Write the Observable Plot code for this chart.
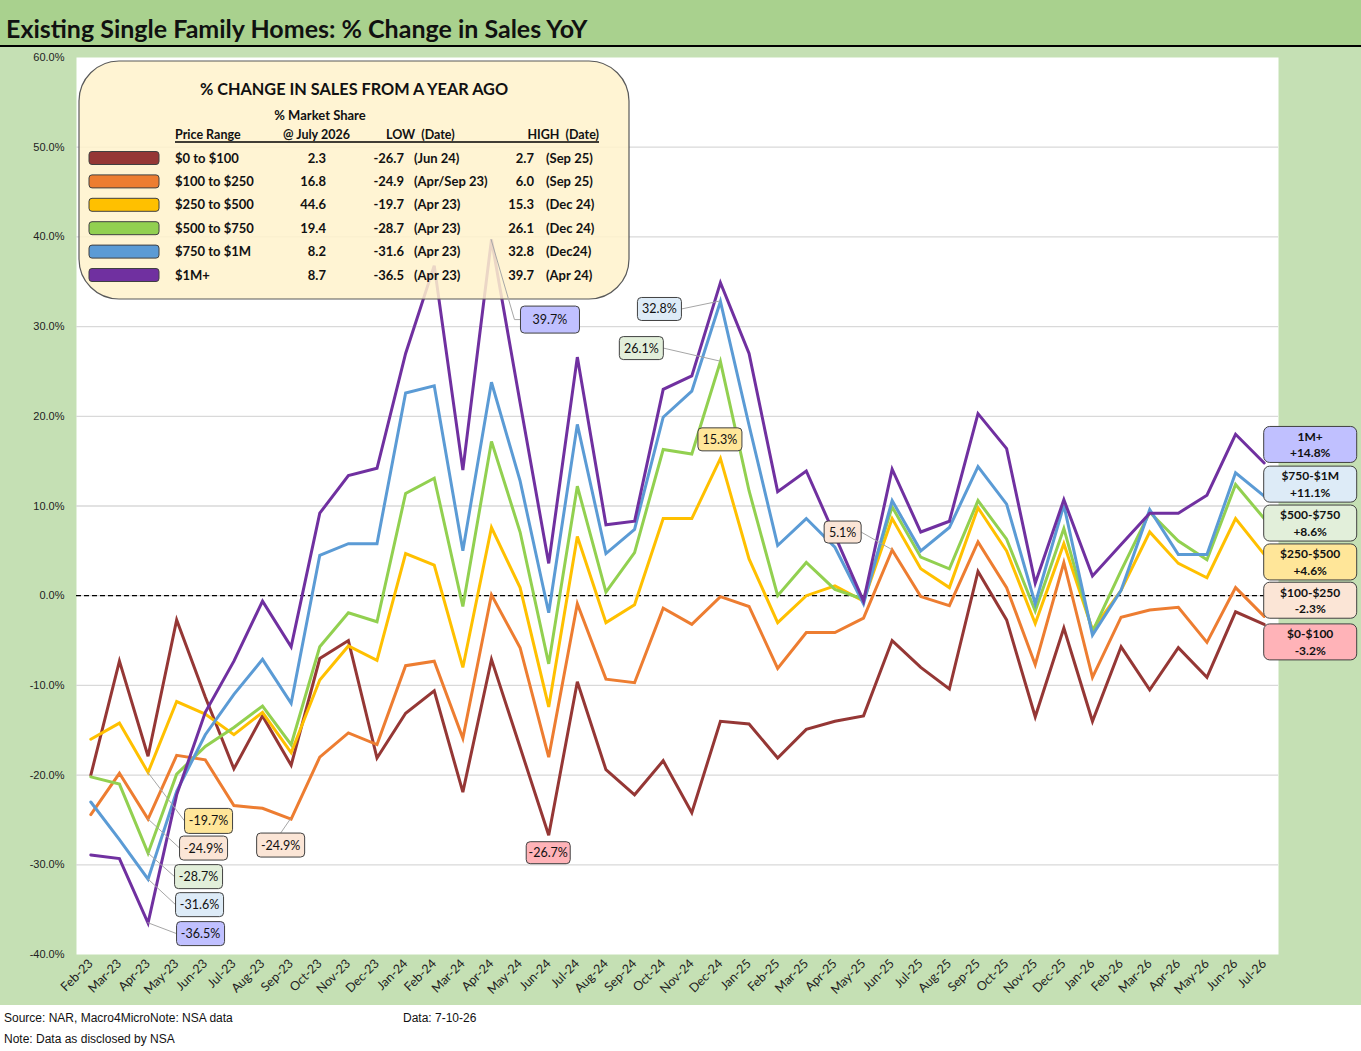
<!DOCTYPE html>
<html><head><meta charset="utf-8">
<script src="https://cdn.jsdelivr.net/npm/d3@7"></script>
<script src="https://cdn.jsdelivr.net/npm/@observablehq/plot@0.6"></script>
<style>
body{margin:0;width:1361px;height:1051px;overflow:hidden;background:#fff}
#title{height:45px;background:#a9d18e;border-bottom:2px solid #000;font:bold 25px Lato,sans-serif;line-height:56px;padding-left:6px;white-space:nowrap;color:#111;overflow:visible}
#chart svg{display:block}
#chart svg [aria-label^="x-axis"] text{font-family:Lato,sans-serif;font-size:12.5px;fill:#222}
#foot{position:relative;height:46px;font:12px "Liberation Sans",Arial,sans-serif;color:#111}
#foot span{position:absolute;white-space:nowrap}
</style></head><body>
<div id="title">Existing Single Family Homes: % Change in Sales YoY</div>
<div id="chart"></div>
<div id="foot"><span style="left:4px;top:6px">Source: NAR, Macro4MicroNote: NSA data</span><span style="left:403px;top:6px">Data: 7-10-26</span><span style="left:4px;top:27px">Note: Data as disclosed by NSA</span></div>
<script>
const months = ["Feb-23","Mar-23","Apr-23","May-23","Jun-23","Jul-23","Aug-23","Sep-23","Oct-23","Nov-23","Dec-23",
"Jan-24","Feb-24","Mar-24","Apr-24","May-24","Jun-24","Jul-24","Aug-24","Sep-24","Oct-24","Nov-24","Dec-24",
"Jan-25","Feb-25","Mar-25","Apr-25","May-25","Jun-25","Jul-25","Aug-25","Sep-25","Oct-25","Nov-25","Dec-25",
"Jan-26","Feb-26","Mar-26","Apr-26","May-26","Jun-26","Jul-26"];
const seriesNames = ["$0 to $100","$100 to $250","$250 to $500","$500 to $750","$750 to $1M","$1M+"];
const s0to100 = [-20.0,-7.3,-17.9,-2.7,-11.3,-19.3,-13.4,-18.9,-7.0,-5.0,-18.1,
 -13.1,-10.6,-21.9,-7.1,-16.9,-26.7,-9.6,-19.4,-22.2,-18.4,-24.2,-14.0,
 -14.3,-18.1,-14.9,-14.0,-13.4,-5.0,-8.0,-10.4,2.7,-2.7,-13.5,-3.6,
 -14.0,-5.7,-10.5,-5.8,-9.1,-1.8,-3.2];
const s100to250 = [-24.4,-19.8,-24.9,-17.8,-18.3,-23.4,-23.7,-24.9,-18.0,-15.3,-16.6,
 -7.8,-7.3,-15.9,0.1,-5.8,-18.0,-0.9,-9.3,-9.7,-1.4,-3.2,-0.1,
 -1.2,-8.1,-4.1,-4.1,-2.5,5.1,-0.1,-1.1,6.0,0.9,-7.7,3.7,
 -9.1,-2.4,-1.6,-1.3,-5.2,0.9,-2.3];
const s250to500 = [-16.0,-14.2,-19.7,-11.8,-13.2,-15.5,-13.0,-17.5,-9.4,-5.6,-7.2,
 4.7,3.4,-8.0,7.6,0.9,-12.4,6.6,-3.0,-1.0,8.6,8.6,15.3,
 4.1,-3.0,0.0,1.1,-0.6,8.6,3.0,0.9,9.8,5.0,-3.1,5.8,
 -3.8,0.6,7.1,3.6,2.0,8.6,4.6];
const s500to750 = [-20.2,-21.0,-28.7,-19.9,-16.8,-14.7,-12.3,-16.6,-5.7,-1.9,-2.9,
 11.4,13.1,-1.2,17.2,7.1,-7.6,12.2,0.4,4.8,16.3,15.8,26.1,
 11.7,0.0,3.7,0.7,-0.4,9.9,4.3,3.0,10.6,6.3,-1.7,7.5,
 -4.0,2.8,9.3,6.1,4.0,12.4,8.6];
const s750to1M = [-23.0,-27.2,-31.6,-21.8,-15.5,-11.0,-7.1,-12.0,4.5,5.8,5.8,
 22.6,23.4,5.0,23.8,12.8,-1.9,19.1,4.7,7.4,19.9,22.8,32.8,
 19.0,5.6,8.6,5.4,-0.9,10.6,5.0,7.6,14.4,10.2,-0.9,10.1,
 -4.4,0.6,9.6,4.6,4.6,13.7,11.1];
const s1Mplus = [-28.9,-29.3,-36.5,-22.2,-13.0,-7.3,-0.6,-5.7,9.2,13.4,14.2,
 27.0,36.8,14.0,39.7,21.5,3.6,26.6,7.9,8.3,23.0,24.5,34.9,
 27.0,11.6,13.9,6.7,-0.6,14.1,7.1,8.3,20.3,16.4,1.4,10.7,
 2.2,5.7,9.2,9.2,11.2,18.0,14.8];
const seriesValues = [s0to100, s100to250, s250to500, s500to750, s750to1M, s1Mplus];
const yTicks = [-40,-30,-20,-10,0,10,20,30,40,50,60];

// legend table
const shares = ["2.3","16.8","44.6","19.4","8.2","8.7"];
const lows = ["-26.7","-24.9","-19.7","-28.7","-31.6","-36.5"];
const lowDates = ["(Jun 24)","(Apr/Sep 23)","(Apr 23)","(Apr 23)","(Apr 23)","(Apr 23)"];
const highs = ["2.7","6.0","15.3","26.1","32.8","39.7"];
const highDates = ["(Sep 25)","(Sep 25)","(Dec 24)","(Dec 24)","(Dec24)","(Apr 24)"];

// end labels
const endNames = ["$0-$100","$100-$250","$250-$500","$500-$750","$750-$1M","1M+"];

// annotations (series index, month)
const annSeries = [2,1,3,4,5,1,0,5,4,3,2,1];
const annMonths = ["Apr-23","Apr-23","Apr-23","Apr-23","Apr-23","Sep-23","Jun-24","Apr-24","Dec-24","Dec-24","Dec-24","Jun-25"];

// styles
const colors = ["#953735","#ed7d31","#ffc000","#92d050","#5b9bd5","#7030a0"];
const boxFills = ["#ffb3b8","#fbe5d6","#ffe699","#e2efda","#ddebf7","#c0c0ff"];
const annLayout = [
 {dx:61,dy:49,w:48,h:25,c:"left"},
 {dx:56,dy:29.5,w:48,h:24,c:"left"},
 {dx:51,dy:24,w:48,h:24,c:"left"},
 {dx:52,dy:26,w:48,h:24,c:"left"},
 {dx:53,dy:11,w:48,h:24,c:"left"},
 {dx:-10,dy:26.5,w:48,h:24,c:"top"},
 {dx:0,dy:18,w:44,h:22,c:"none"},
 {dx:59,dy:80.5,w:59,h:27,c:"elbow"},
 {dx:-60.5,dy:8,w:44,h:23,c:"right"},
 {dx:-78.6,dy:-13,w:44,h:23,c:"right"},
 {dx:0,dy:-18.6,w:44,h:23,c:"none"},
 {dx:-49,dy:-17.4,w:37,h:22,c:"right"}
];
const endDy = [18,-15.6,8,5,-11.5,-18];

const rows = [];
seriesValues.forEach((arr, si) => arr.forEach((v, i) => rows.push({month: months[i], value: v, series: seriesNames[si]})));

const CAL = "Lato, 'Open Sans', sans-serif";

function annotationsMark(index, scales, values, dims) {
  const g = d3.create("svg:g").attr("text-anchor","middle");
  annSeries.forEach((si, k) => {
    const L = annLayout[k];
    const v = seriesValues[si][months.indexOf(annMonths[k])];
    const px = scales.x(annMonths[k]), py = scales.y(v);
    const cx = px + L.dx, cy = py + L.dy;
    const x0 = cx - L.w/2, y0 = cy - L.h/2;
    let pts = null;
    if (L.c === "left") pts = [[px,py],[x0,cy]];
    else if (L.c === "right") pts = [[x0+L.w,cy],[px,py]];
    else if (L.c === "top") pts = [[px,py],[cx,y0]];
    else if (L.c === "elbow") pts = [[px,py],[x0-6,cy],[x0,cy]];
    if (pts) g.append("polyline").attr("points", pts.map(p=>p.join(",")).join(" ")).attr("fill","none").attr("stroke","#a6a6a6").attr("stroke-width",1);
    g.append("rect").attr("x",x0).attr("y",y0).attr("width",L.w).attr("height",L.h).attr("rx",4)
      .attr("fill",boxFills[si]).attr("stroke","#404040").attr("stroke-width",1);
    g.append("text").attr("x",cx).attr("y",cy).attr("dy","0.36em").attr("text-anchor","middle")
      .attr("font-family",CAL).attr("font-size",12.5).attr("fill","#111").text(v.toFixed(1)+"%");
  });
  // end labels
  const lastM = months[months.length-1];
  seriesValues.forEach((arr, si) => {
    const v = arr[arr.length-1];
    const px = scales.x(lastM), py = scales.y(v) + endDy[si];
    const w = 93, h = 36;
    g.append("rect").attr("x",px).attr("y",py-h/2).attr("width",w).attr("height",h).attr("rx",6)
      .attr("fill",boxFills[si]).attr("stroke","#404040").attr("stroke-width",1);
    const t = g.append("text").attr("text-anchor","middle").attr("font-family",CAL).attr("font-weight","bold").attr("font-size",12).attr("fill","#111");
    t.append("tspan").attr("x",px+w/2).attr("y",py-8).attr("dy","0.36em").text(endNames[si]);
    t.append("tspan").attr("x",px+w/2).attr("y",py+8.5).attr("dy","0.36em").text((v>0?"+":"")+v.toFixed(1)+"%");
  });
  return g.node();
}

function legendMark(index, scales, values, dims) {
  const g = d3.create("svg:g").attr("font-family",CAL).attr("font-weight","bold").attr("fill","#111").attr("text-anchor","start");
  const bx = dims.marginLeft + 3, by = dims.marginTop + 4;
  const txt = (x, y, s, anchor, size) => g.append("text").attr("x",x).attr("y",y).attr("text-anchor",anchor).attr("font-size",size).attr("xml:space","preserve").text(s);
  g.append("rect").attr("x",bx).attr("y",by).attr("width",550).attr("height",238).attr("rx",40)
    .attr("fill","#fff2cc").attr("fill-opacity",0.86).attr("stroke","#595959").attr("stroke-width",1.2);
  txt(bx+275, by+34, "% CHANGE IN SALES FROM A YEAR AGO", "middle", 16.3);
  txt(bx+241, by+59, "% Market Share", "middle", 13);
  const hy = by + 78;
  txt(bx+96, hy, "Price Range", "start", 12.5);
  txt(bx+204, hy, "@ July 2026", "start", 12.5);
  txt(bx+307, hy, "LOW  (Date)", "start", 12.5);
  txt(bx+520, hy, "HIGH  (Date)", "end", 12.5);
  g.append("line").attr("x1",bx+96).attr("x2",bx+520).attr("y1",hy+3).attr("y2",hy+3).attr("stroke","#000").attr("stroke-width",1.5);
  seriesNames.forEach((n, i) => {
    const cy = by + 97 + i*23.4;
    g.append("rect").attr("x",bx+10).attr("y",cy-6.5).attr("width",70).attr("height",13).attr("rx",3)
      .attr("fill",colors[i]).attr("stroke","#404040").attr("stroke-width",1);
    const ty = cy + 4.5;
    txt(bx+96, ty, n, "start", 13);
    txt(bx+247, ty, shares[i], "end", 13);
    txt(bx+325, ty, lows[i], "end", 13);
    txt(bx+335, ty, lowDates[i], "start", 13);
    txt(bx+455, ty, highs[i], "end", 13);
    txt(bx+467, ty, highDates[i], "start", 13);
  });
  return g.node();
}

const chart = Plot.plot({
  width: 1361,
  height: 958,
  marginLeft: 76,
  marginRight: 83,
  marginTop: 10,
  marginBottom: 51,
  style: {background: "#c5e0b4", fontFamily: "'Liberation Sans', Arial, sans-serif", fontSize: "11px", color: "#222"},
  x: {type: "point", domain: months, padding: 0.5, round: false, tickSize: 0, tickPadding: 7, tickRotate: -45, label: null},
  y: {domain: [-40, 60], ticks: yTicks, tickFormat: d => d.toFixed(1) + "%", tickSize: 0, tickPadding: 12, label: null},
  color: {domain: seriesNames, range: colors},
  marks: [
    Plot.frame({fill: "white", stroke: "none"}),
    Plot.ruleY(yTicks.filter(d => d > -40 && d < 60), {stroke: "#d9d9d9", strokeWidth: 1.3}),
    Plot.ruleY([0], {stroke: "#000", strokeWidth: 1.2, strokeDasharray: "5,3"}),
    Plot.line(rows, {x: "month", y: "value", stroke: "series", strokeWidth: 3, strokeLinejoin: "miter", strokeMiterlimit: 4}),
    legendMark,
    annotationsMark
  ]
});
document.getElementById("chart").appendChild(chart);
</script>
</body></html>
